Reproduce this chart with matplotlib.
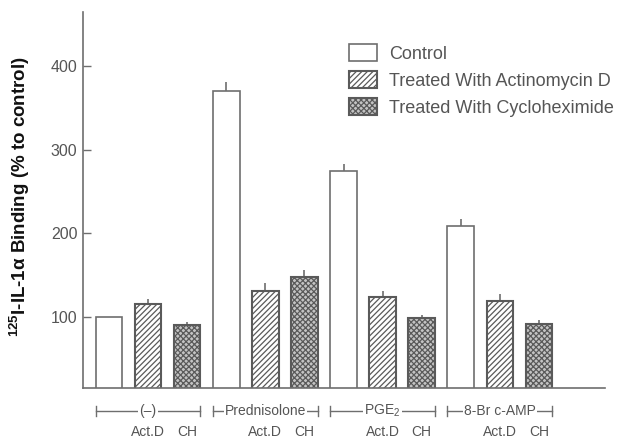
import matplotlib
matplotlib.use("Agg")
import matplotlib.pyplot as plt
import matplotlib.transforms as mtransforms
from matplotlib.patches import Patch
import numpy as np

plt.rcParams["font.family"] = ["Liberation Sans", "DejaVu Sans"]
plt.rcParams["mathtext.fontset"] = "custom"
plt.rcParams["mathtext.rm"] = "Liberation Sans"
plt.rcParams["mathtext.it"] = "Liberation Sans:italic"
plt.rcParams["mathtext.bf"] = "Liberation Sans:bold"
plt.rcParams["hatch.linewidth"] = 0.9

# Binding (% of control) for each pretreatment group
groups = ["(\u2013)", "Prednisolone", "PGE$_2$", "8-Br c-AMP"]
control = [100, 370.5, 274.5, 209]
control_err = [0, 11, 9, 8.5]
actd = [115.5, 131, 123.5, 119]
actd_err = [5.5, 10, 7.5, 8]
chx = [90, 147.5, 98.5, 91.5]
chx_err = [4.5, 8.5, 3.5, 4.5]
yticks = [100, 200, 300, 400]
legend_labels = ["Control", "Treated With Actinomycin D", "Treated With Cycloheximide"]

GRAY = "#6e6e6e"
TEXT = "#555555"

fig = plt.figure(figsize=(6.22, 4.41), dpi=100)
ax = fig.add_axes([83 / 622, 1 - 388 / 441, 522 / 622, 376 / 441])

n = len(groups)
base = np.arange(n) * 3
width = 0.68

ax.bar(base, control, width, color="white", edgecolor=GRAY, linewidth=1.2, zorder=2)
ax.bar(base + 1, actd, width, color="white", edgecolor="#5a5a5a", linewidth=1.5,
       hatch="//////", zorder=2)
ax.bar(base + 2, chx, width, color="#c4c4c4", edgecolor="#5a5a5a", linewidth=1.5,
       hatch="xxxxxx", zorder=2)

for xs, vals, errs in [(base, control, control_err), (base + 1, actd, actd_err),
                       (base + 2, chx, chx_err)]:
    for x, v, e in zip(xs, vals, errs):
        if e > 0:
            ax.errorbar(x, v, yerr=[[0], [e]], fmt="none", ecolor=GRAY,
                        elinewidth=1.2, capsize=0, zorder=1)

ax.set_xlim(-0.665, 12.69)
ax.set_ylim(15.2, 464.6)
ax.set_yticks(yticks)
ax.set_yticklabels([str(t) for t in yticks])
ax.set_xticks([])
ax.tick_params(axis="y", direction="in", length=6, width=1.0, color=GRAY,
               labelcolor=TEXT, labelsize=11.5, pad=4)
for s in ["top", "right"]:
    ax.spines[s].set_visible(False)
for s in ["left", "bottom"]:
    ax.spines[s].set_color(GRAY)
    ax.spines[s].set_linewidth(1.2)

# Group brackets and sub-labels under the axis
trans = mtransforms.blended_transform_factory(ax.transData, ax.transAxes)
yb = -23 / 376
tick_h = 5 / 376
for i, g in enumerate(groups):
    x0 = base[i] - width / 2
    x1 = base[i] + 2 + width / 2
    ax.plot([x0, x1], [yb, yb], color=GRAY, lw=1.0, transform=trans, clip_on=False)
    for xe in (x0, x1):
        ax.plot([xe, xe], [yb - tick_h, yb + tick_h], color=GRAY, lw=1.0,
                transform=trans, clip_on=False)
    ax.text(base[i] + 1, yb, g, transform=trans, ha="center", va="center",
            color=TEXT, fontsize=10,
            bbox=dict(facecolor="white", edgecolor="none", pad=0.8))
    ax.text(base[i] + 1, -44 / 376, "Act.D", transform=trans, ha="center", va="center",
            color=TEXT, fontsize=10)
    ax.text(base[i] + 2, -44 / 376, "CH", transform=trans, ha="center", va="center",
            color=TEXT, fontsize=10)

handles = [
    Patch(facecolor="white", edgecolor=GRAY, linewidth=1.2),
    Patch(facecolor="white", edgecolor="#5a5a5a", linewidth=1.5, hatch="//////"),
    Patch(facecolor="#c4c4c4", edgecolor="#5a5a5a", linewidth=1.5, hatch="xxxxxx"),
]
leg = fig.legend(handles, legend_labels, loc="upper left",
                 bbox_to_anchor=(349 / 622, 1 - 44 / 441), frameon=False,
                 fontsize=13, handlelength=1.55, handleheight=1.1,
                 handletextpad=0.67, labelspacing=0.45, borderpad=0, borderaxespad=0)
for t in leg.get_texts():
    t.set_color(TEXT)

fig.text(20 / 622, 1 - 197 / 441,
         r"$\mathbf{{}^{125}}$I-IL-1$\mathbf{\alpha}$ Binding (% to control)",
         rotation=90, ha="center", va="center", fontsize=13.5, fontweight="bold",
         color="#111111")

fig.savefig("out.png", dpi=100)
